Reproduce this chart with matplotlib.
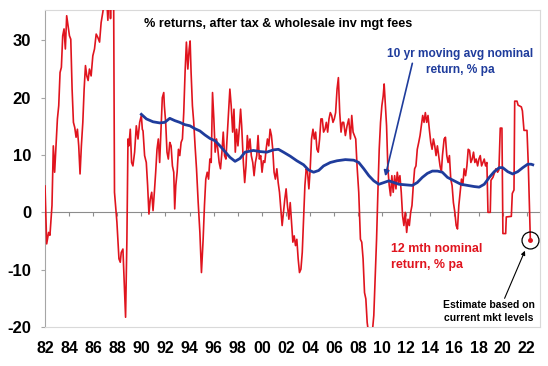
import matplotlib
matplotlib.use("Agg")
import matplotlib.pyplot as plt

# fonts
plt.rcParams['font.family'] = ['Liberation Sans', 'DejaVu Sans']
plt.rcParams['font.weight'] = 'bold'
plt.rcParams['axes.unicode_minus'] = False

# 12 mth nominal return, % pa
red_x = [1982.0, 1982.14, 1982.30, 1982.41, 1982.58, 1982.69, 1982.80, 1982.91,
         1983.03, 1983.14, 1983.25, 1983.36, 1983.47, 1983.58, 1983.69, 1983.80, 1983.91,
         1984.03, 1984.14, 1984.25, 1984.36, 1984.47, 1984.58, 1984.69, 1984.80, 1984.91,
         1985.02, 1985.14, 1985.25, 1985.36, 1985.47, 1985.58, 1985.69, 1985.83, 1985.97,
         1986.11, 1986.25, 1986.39, 1986.53, 1986.66, 1986.80, 1986.94,
         1987.08, 1987.22, 1987.36, 1987.44, 1987.58, 1987.69, 1987.77, 1987.97,
         1988.14, 1988.25, 1988.33, 1988.47, 1988.69, 1988.80, 1988.89, 1988.97,
         1989.08, 1989.19, 1989.30, 1989.44, 1989.58, 1989.72, 1989.86, 1990.0,
         1990.08, 1990.14, 1990.27, 1990.41, 1990.52, 1990.63, 1990.74, 1990.86, 1990.97,
         1991.08, 1991.19, 1991.30, 1991.41, 1991.52, 1991.63, 1991.74, 1991.86, 1991.91,
         1992.02, 1992.13, 1992.24, 1992.36, 1992.47, 1992.58, 1992.69, 1992.77, 1992.86, 1992.97,
         1993.08, 1993.19, 1993.30, 1993.41, 1993.52, 1993.63, 1993.74, 1993.86, 1993.97,
         1994.05, 1994.13, 1994.24, 1994.35, 1994.46, 1994.58, 1994.72, 1994.86, 1994.99,
         1995.13, 1995.24, 1995.35, 1995.47, 1995.58, 1995.69, 1995.80, 1995.91,
         1996.02, 1996.13, 1996.24, 1996.35, 1996.46, 1996.57, 1996.69, 1996.80, 1996.91,
         1997.02, 1997.13, 1997.24, 1997.35, 1997.46, 1997.58, 1997.69, 1997.80, 1997.91,
         1998.02, 1998.13, 1998.24, 1998.33, 1998.47, 1998.58, 1998.69, 1998.80, 1998.91,
         1999.02, 1999.13, 1999.25, 1999.36, 1999.47, 1999.58, 1999.69, 1999.80, 1999.91,
         2000.02, 2000.13, 2000.25, 2000.36, 2000.47, 2000.58, 2000.69, 2000.80, 2000.91,
         2001.02, 2001.13, 2001.25, 2001.36, 2001.47, 2001.58, 2001.69, 2001.80, 2001.91,
         2002.02, 2002.13, 2002.25, 2002.36, 2002.47, 2002.58, 2002.69, 2002.80, 2002.91,
         2003.02, 2003.13, 2003.25, 2003.36, 2003.47, 2003.58, 2003.69, 2003.80, 2003.91,
         2004.02, 2004.13, 2004.25, 2004.36, 2004.47, 2004.58, 2004.69, 2004.80, 2004.91,
         2005.02, 2005.13, 2005.25, 2005.36, 2005.47, 2005.58, 2005.69, 2005.80, 2005.91,
         2006.02, 2006.13, 2006.25, 2006.36, 2006.47, 2006.58, 2006.69, 2006.80, 2006.94,
         2007.08, 2007.22, 2007.36, 2007.47, 2007.58, 2007.69, 2007.80, 2007.91,
         2008.05, 2008.19, 2008.30, 2008.41, 2008.53, 2008.64, 2008.75, 2008.86,
         2009.03, 2009.19, 2009.30, 2009.41, 2009.53, 2009.64, 2009.75, 2009.86, 2009.97,
         2010.08, 2010.16, 2010.25, 2010.36, 2010.47, 2010.58, 2010.69, 2010.80, 2010.91,
         2011.03, 2011.14, 2011.25, 2011.36, 2011.47, 2011.58, 2011.69, 2011.80, 2011.91,
         2012.03, 2012.14, 2012.25, 2012.36, 2012.47, 2012.58, 2012.69, 2012.80, 2012.91,
         2013.03, 2013.14, 2013.25, 2013.36, 2013.47, 2013.58, 2013.69, 2013.80, 2013.91,
         2014.03, 2014.14, 2014.25, 2014.36, 2014.47, 2014.58, 2014.69, 2014.80, 2014.91,
         2015.0, 2015.14, 2015.25, 2015.36, 2015.47, 2015.58, 2015.69, 2015.80, 2015.91,
         2016.03, 2016.14, 2016.25, 2016.36, 2016.47, 2016.58, 2016.69, 2016.80, 2016.92,
         2017.03, 2017.14, 2017.25, 2017.36, 2017.47, 2017.58, 2017.69, 2017.80, 2017.92,
         2018.03, 2018.14, 2018.25, 2018.36, 2018.47, 2018.58, 2018.69, 2018.78, 2018.97,
         2019.03, 2019.19, 2019.44, 2019.58, 2019.69, 2019.80, 2019.94,
         2020.02, 2020.25, 2020.30, 2020.72, 2020.80, 2020.94,
         2021.0, 2021.19, 2021.28, 2021.55, 2021.64, 2021.77, 2022.02, 2022.13, 2022.30]
red_y = [4.6, -5.5, -3.5, -4.0, 1.2, 11.6, 7.0, 11.6,
         16.3, 18.6, 24.4, 25.3, 30.8, 32.0, 28.5, 34.3, 32.6,
         30.8, 30.2, 21.5, 15.7, 14.8, 13.1, 14.5, 11.6, 6.7,
         11.6, 15.7, 21.5, 25.6, 23.8, 23.0, 25.0, 23.8, 27.3,
         28.5, 31.1, 30.5, 29.7, 33.1, 34.9, 37.0,
         39.0, 33.5, 40.0, 33.8, 45.0, 42.0, 3.5, -1.7,
         -8.1, -8.7, -7.0, -6.4, -18.3, -4.7, 12.8, 11.6,
         14.5, 8.7, 8.1, 10.5, 15.1, 12.8, 15.7, 16.9,
         14.5, 14.2, 9.9, 8.7, 4.7, -0.3, 2.3, 3.5, 0.3,
         3.5, 7.0, 11.0, 12.8, 8.7, 14.5, 20.0, 20.9, 18.6,
         15.7, 10.5, 9.3, 12.2, 11.6, 8.1, 7.0, 0.6, 4.7, 7.0,
         11.0, 9.9, 12.2, 12.8, 17.4, 24.4, 29.7, 25.0, 28.5,
         29.9, 24.4, 18.6, 15.7, 11.6, 7.6, 1.7, -3.5, -10.5,
         -4.7, 1.2, 5.8, 7.0, 5.8, 9.3, 8.7, 20.9,
         16.3, 10.5, 12.8, 11.0, 8.7, 7.6, 10.5, 14.0, 9.9,
         9.3, 13.4, 17.4, 21.5, 18.6, 14.0, 18.0, 10.5, 14.5,
         11.6, 14.5, 18.0, 15.1, 8.7, 5.2, 8.1, 13.4, 11.0,
         12.8, 9.9, 8.7, 6.4, 8.7, 9.9, 13.4, 9.3, 9.9,
         7.0, 9.0, 8.7, 11.0, 12.8, 11.6, 14.5, 13.4, 11.0,
         7.0, 5.8, 7.6, 5.2, 3.5, 0.6, -2.3, 0.0, 2.3,
         4.1, 1.2, -1.2, 1.7, -1.7, -5.2, -4.1, -5.8, -4.7,
         -8.1, -10.5, -9.9, -7.0, -1.2, 4.7, 7.6, 7.0, 4.1,
         7.6, 12.8, 14.5, 12.8, 14.0, 11.0, 10.5, 12.8, 16.3,
         16.3, 14.0, 14.5, 15.7, 14.0, 16.3, 17.4, 16.9, 15.7,
         16.3, 17.4, 21.5, 23.5, 17.4, 14.0, 15.7, 15.7, 13.4,
         15.1, 16.3, 12.8, 16.9, 14.0, 13.4, 12.8, 8.1,
         3.5, -4.7, -5.2, -8.1, -14.0, -15.1, -19.2, -21.0,
         -21.5, -20.6, -18.0, -11.6, -4.7, 3.5, 11.0, 15.7, 18.6,
         20.3, 22.4, 19.2, 15.1, 7.6, 4.7, 2.9, 6.4, 3.5,
         6.4, 4.1, 7.0, 5.2, 6.4, 3.5, -0.6, -2.3, 0.0,
         -3.5, -1.2, -2.3, 0.0, 1.2, 4.7, 7.6, 8.1, 11.0,
         12.2, 13.4, 15.1, 16.9, 15.7, 17.4, 15.7, 16.9, 14.5,
         12.2, 11.0, 12.8, 11.6, 9.9, 11.6, 9.9, 8.1, 7.0,
         9.9, 12.8, 13.1, 9.9, 8.7, 9.9, 5.8, 4.7, 1.7,
         0.0, -2.3, -2.9, 1.2, 3.5, 5.8, 4.7, 7.6, 6.4,
         8.1, 11.0, 10.8, 8.7, 9.3, 10.5, 8.7, 9.3, 8.1,
         9.3, 9.9, 8.1, 8.7, 9.3, 8.1, 8.7, 0.0, 0.0,
         5.6, 6.1, 7.6, 7.0, 7.4, 14.7, 14.7,
         -3.7, -3.7, -0.8, -0.7, 3.3, 3.9,
         19.4, 19.4, 18.7, 18.4, 17.7, 14.3, 14.3, 8.2, -4.9]

# 10 yr moving avg nominal return, % pa
blue_x = [1990.0, 1990.42, 1990.97, 1991.53, 1991.94, 1992.36, 1992.78, 1993.19, 1993.61,
          1994.03, 1994.44, 1994.86, 1995.28, 1995.69, 1996.11, 1996.53, 1996.94, 1997.36,
          1997.78, 1998.19, 1998.61, 1999.30, 1999.86, 2000.41, 2000.97, 2001.38, 2001.80,
          2002.36, 2002.91, 2003.47, 2003.88, 2004.30, 2004.72, 2005.13, 2005.69, 2006.25,
          2006.94, 2007.64, 2008.05, 2008.47, 2008.89, 2009.30, 2009.72, 2010.14, 2010.55,
          2010.97, 2011.39, 2011.94, 2012.50, 2012.91, 2013.33, 2013.75, 2014.16, 2014.58,
          2014.99, 2015.42, 2015.97, 2016.53, 2017.08, 2017.64, 2018.05, 2018.47, 2018.89,
          2019.30, 2019.72, 2020.0, 2020.42, 2020.83, 2021.25, 2021.67, 2022.08, 2022.36, 2022.5]
blue_y = [17.1, 16.3, 15.8, 15.6, 15.7, 16.4, 16.0, 15.7, 15.3,
          15.1, 14.6, 14.2, 13.5, 12.9, 12.5, 11.6, 10.6, 9.6,
          8.9, 9.4, 10.5, 10.8, 10.6, 10.5, 10.9, 11.0, 10.5,
          9.8, 9.0, 8.3, 7.4, 7.0, 7.3, 8.1, 8.7, 9.0,
          9.2, 9.1, 8.7, 7.6, 6.4, 5.5, 4.9, 5.2, 5.5,
          5.2, 4.9, 4.8, 4.7, 5.2, 6.1, 6.8, 7.2, 7.2,
          7.0, 6.1, 5.5, 4.9, 4.7, 4.5, 4.4, 4.9, 6.1,
          7.1, 7.8, 7.8, 7.1, 6.7, 7.1, 7.8, 8.4, 8.4, 8.3]

tick_years = list(range(1982, 2023, 2))
tick_labels = ['%02d' % (y % 100) for y in tick_years]

red = '#e0141e'
blue = '#1f3c9c'

fig = plt.figure(figsize=(5.48, 3.66), dpi=100)
ax = fig.add_axes([45 / 548, 1 - 327 / 366, 495 / 548, 317 / 366])

ax.plot(red_x, red_y, color=red, lw=1.2, zorder=3)
ax.plot(blue_x, blue_y, color=blue, lw=2.0, zorder=4)

ax.set_xlim(1982, 2023.1)
ax.set_ylim(-20, 35.3)

# frame
for side in ['top', 'right', 'bottom']:
    ax.spines[side].set_color('#d9d9d9')
ax.spines['left'].set_color('#a6a6a6')

ax.set_yticks([-20, -10, 0, 10, 20, 30])
ax.tick_params(axis='y', direction='out', length=3, color='#a6a6a6', pad=7, labelsize=12)
ax.set_xticks(tick_years)
ax.set_xticklabels(tick_labels)
ax.tick_params(axis='x', length=0, pad=10, labelsize=11.5)

# zero line with the year ticks
zero = ax.secondary_xaxis(0, transform=ax.transData)
zero.set_xticks(tick_years)
zero.tick_params(axis='x', direction='out', length=3, color='#8c8c8c', labelbottom=False)
zero.spines['bottom'].set_color('#8c8c8c')

ax.text(0.47, 0.956, '% returns, after tax & wholesale inv mgt fees', transform=ax.transAxes,
        ha='center', va='center', fontsize=9.1, fontweight='bold')

ax.text(2016.45, 26.3, '10 yr moving avg nominal\nreturn, % pa', color=blue, ha='center',
        va='center', fontsize=8.6, fontweight='bold', linespacing=1.45)
ax.annotate('', xy=(2010.25, 6.3), xytext=(2012.5, 26.0),
            arrowprops=dict(arrowstyle='-|>', color=blue, lw=1.2, mutation_scale=8,
                            shrinkA=0, shrinkB=0))

ax.text(2010.7, -7.85, '12 mth nominal\nreturn, % pa', color=red, ha='left', va='center',
        fontsize=8.9, fontweight='bold', linespacing=1.45)

ax.plot(red_x[-1], red_y[-1], 'o', ms=2.5, color=red, zorder=5)
ax.plot(red_x[-1], red_y[-1], 'o', ms=12.2, mfc='none', mec='black', mew=0.9, zorder=5)
ax.text(2018.83, -17.3, 'Estimate based on\ncurrent mkt levels', ha='center', va='center',
        fontsize=7.5, fontweight='bold', linespacing=1.3)
ax.annotate('', xy=(2021.85, -6.7), xytext=(2020.16, -15.0),
            arrowprops=dict(arrowstyle='-|>', color='black', lw=0.8, mutation_scale=6,
                            shrinkA=0, shrinkB=0))

fig.savefig('out.png', dpi=100)
